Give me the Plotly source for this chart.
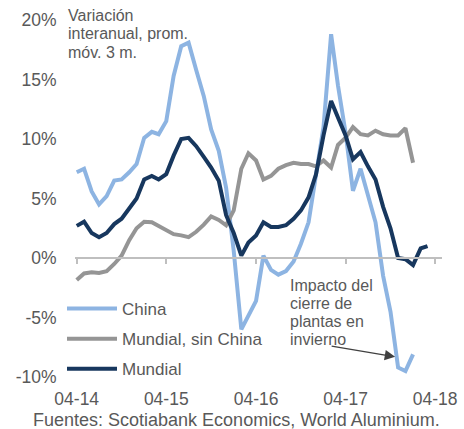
import pandas as pd
import plotly.graph_objects as go

# meses desde 04-2014
fechas = pd.date_range("2014-04-01", periods=48, freq="MS")

china = [7.2, 7.5, 5.6, 4.5, 5.2, 6.5, 6.6, 7.2, 7.9, 10.1, 10.6, 10.4,
         11.5, 15.3, 17.8, 18.1, 15.8, 13.6, 10.8, 9.0, 5.9, 0.6, -6.0, -4.8,
         -3.6, 0.2, -1.0, -1.4, -1.1, -0.3, 1.2, 3.0, 7.0, 11.0, 18.8, 14.5,
         10.5, 5.65, 7.5, 5.2, 3.0, -1.5, -4.5, -9.2, -9.5, -8.1]

sin_china = [-1.85, -1.3, -1.2, -1.25, -1.1, -0.5, 0.2, 1.5, 2.5, 3.05, 3.0, 2.7,
             2.4, 2.0, 1.9, 1.75, 2.2, 2.8, 3.5, 3.2, 2.75, 4.0, 7.5, 8.8,
             8.2, 6.6, 6.9, 7.5, 7.8, 8.0, 7.9, 7.9, 7.7, 8.2, 7.6, 9.5,
             10.1, 11.0, 10.4, 10.3, 10.7, 10.4, 10.3, 10.3, 10.9, 8.0]

mundial = [2.7, 3.05, 2.1, 1.75, 2.1, 2.85, 3.3, 4.1, 5.0, 6.6, 6.9, 6.6,
           7.05, 8.6, 10.0, 10.1, 9.4, 8.5, 7.6, 6.5, 3.6, 2.1, 0.2, 1.3,
           1.9, 3.0, 2.6, 2.6, 2.75, 3.3, 4.0, 5.1, 7.0, 10.3, 13.2, 11.8,
           10.3, 8.3, 8.9, 7.7, 6.6, 4.3, 2.5, 0.0, -0.1, -0.6, 0.8, 1.0]

ticks_x = ["2014-04-01", "2015-04-01", "2016-04-01", "2017-04-01", "2018-04-01"]
ticks_x_txt = ["04-14", "04-15", "04-16", "04-17", "04-18"]
ticks_y = [-10, -5, 0, 5, 10, 15, 20]
ticks_y_txt = ["-10%", "-5%", "0%", "5%", "10%", "15%", "20%"]

nota_izq = ["Variación", "interanual, prom.", "móv. 3 m."]
nota_der = ["Impacto del", "cierre de", "plantas en", "invierno"]
fuente_txt = "Fuentes: Scotiabank Economics, World Aluminium."

GRIS = "#595959"
FUENTE = "Liberation Sans, Arial, sans-serif"
rango_x = ["2014-03-25", "2018-04-29"]

W, H = 464, 429
M = dict(l=75, r=22, t=20, b=52)
PW = W - M["l"] - M["r"]
PH = H - M["t"] - M["b"]


def px(x, y):
    # pixel de la pagina -> coordenadas paper
    return (x - M["l"]) / PW, (H - M["b"] - y) / PH


fig = go.Figure()
series = [
    ("China", china, "#8DB4E2", "x"),
    ("Mundial, sin China", sin_china, "#959595", "x"),
    ("Mundial", mundial, "#17375E", "x2"),
]
for i, (nombre, vals, color, eje) in enumerate(series):
    fig.add_trace(go.Scatter(
        x=fechas[:len(vals)], y=vals, name=nombre, mode="lines",
        line=dict(color=color, width=4), legendgroup=str(i), xaxis=eje
    ))

lx, ly = px(62, 291)
fig.update_layout(
    width=W, height=H, margin=M,
    paper_bgcolor="white", plot_bgcolor="white",
    font=dict(family=FUENTE, size=17, color=GRIS),
    showlegend=True,
    legend=dict(x=lx, y=ly, xanchor="left", yanchor="top",
                bgcolor="rgba(0,0,0,0)", tracegroupgap=5, itemwidth=50,
                font=dict(size=17, color=GRIS)),
    # eje en 0% con marcas, sin etiquetas
    xaxis=dict(type="date", range=rango_x, anchor="free", position=1/3,
               showline=True, linecolor="#BFBFBF", linewidth=2,
               ticks="outside", ticklen=5, tickcolor="#BFBFBF", tickwidth=2,
               tickvals=ticks_x, showticklabels=False, showgrid=False,
               zeroline=False, automargin=False),
    # etiquetas abajo
    xaxis2=dict(type="date", range=rango_x, overlaying="x", anchor="y",
                side="bottom", showline=False, showgrid=False, zeroline=False,
                tickvals=ticks_x, ticktext=ticks_x_txt, automargin=False,
                tickfont=dict(size=17.5),
                ticks="outside", ticklen=6, tickcolor="rgba(0,0,0,0)"),
    yaxis=dict(range=[-10, 20], tickvals=ticks_y, ticktext=ticks_y_txt,
               showgrid=False, zeroline=False, showline=False, automargin=False,
               tickfont=dict(size=17.5),
               ticks="outside", ticklen=14, tickcolor="rgba(0,0,0,0)"),
)

for k, linea in enumerate(nota_izq):
    ax_, ay_ = px(66, 15 + 18.5 * k)
    fig.add_annotation(text=linea, xref="paper", yref="paper", x=ax_, y=ay_,
                       xanchor="left", yanchor="middle", showarrow=False,
                       font=dict(size=16, color=GRIS))
for k, linea in enumerate(nota_der):
    ax_, ay_ = px(288, 285 + 18.3 * k)
    fig.add_annotation(text=linea, xref="paper", yref="paper", x=ax_, y=ay_,
                       xanchor="left", yanchor="middle", showarrow=False,
                       font=dict(size=16, color=GRIS))

fig.add_annotation(
    text="", x="2017-10-20", y=-8.3, ax=-65, ay=-11,
    showarrow=True, arrowhead=2, arrowsize=1.6, arrowwidth=1.3,
    arrowcolor="#404040"
)
fx, fy = px(236.5, 420)
fig.add_annotation(
    text=fuente_txt, xref="paper", yref="paper", x=fx, y=fy, xanchor="center",
    yanchor="middle", showarrow=False, font=dict(size=18, color=GRIS)
)

# sin margen de la pagina, sin barra de herramientas
fig.write_html("out.html", config={"displayModeBar": False},
               post_script="document.body.style.margin='0';"
                           "document.body.style.overflow='hidden';")
